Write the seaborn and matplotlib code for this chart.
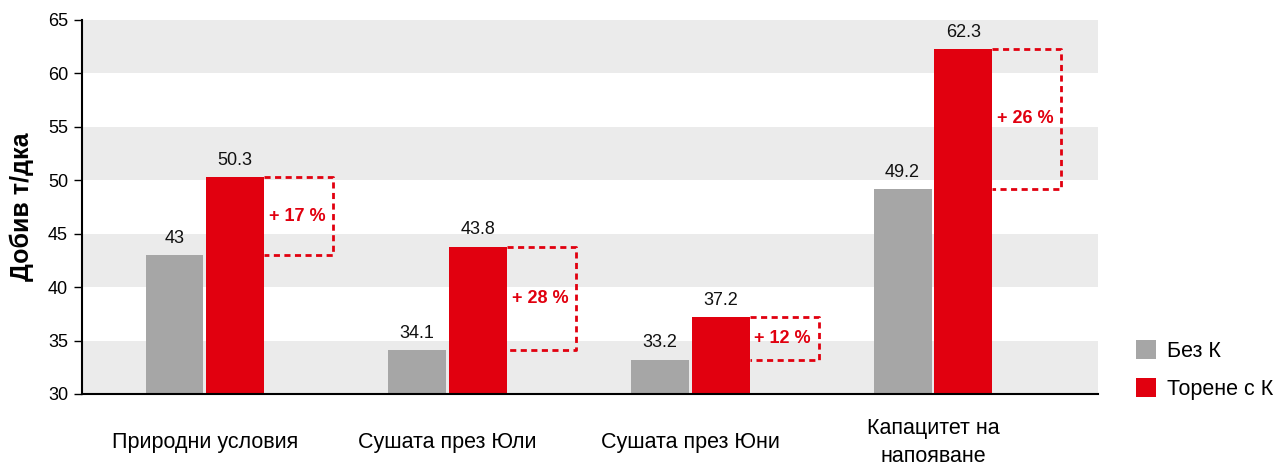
import seaborn as sns
import pandas as pd
import matplotlib
matplotlib.use("Agg")
from matplotlib import pyplot as plt

categories = ["Природни условия", "Сушата през Юли", "Сушата през Юни", "Капацитет на\nнапояване"]
bez_k = [43, 34.1, 33.2, 49.2]
torene_k = [50.3, 43.8, 37.2, 62.3]
pct_labels = ["+ 17 %", "+ 28 %", "+ 12 %", "+ 26 %"]
series_names = ["Без К", "Торене с К"]

gray = "#a6a6a6"
red = "#e1000f"

plt.rcParams["font.family"] = ["Liberation Sans", "DejaVu Sans"]

df = pd.DataFrame({
    "cat": categories * 2,
    "val": bez_k + torene_k,
    "series": [series_names[0]] * 4 + [series_names[1]] * 4,
})

fig = plt.figure(figsize=(12.78, 4.68), dpi=100)
ax = fig.add_axes([82 / 1278, 74 / 468, 1016 / 1278, 374 / 468])

# grey bands
for lo in range(30, 65, 10):
    ax.axhspan(lo, lo + 5, color="#ebebeb", zorder=0, lw=0)

sns.barplot(data=df, x="cat", y="val", hue="series", palette=[gray, red],
            width=0.5, gap=0.045, ax=ax, zorder=2, saturation=1, legend=True)

for cont in ax.containers:
    ax.bar_label(cont, fmt="%g", padding=6, fontsize=13, color="#111111")

# dashed boxes showing the increase
red_bars = ax.containers[1]
for i, bar in enumerate(red_bars):
    x0 = bar.get_x() + bar.get_width()
    x1 = x0 + 0.285
    top = torene_k[i]
    bot = bez_k[i]
    ax.plot([x0, x1, x1, x0], [top, top, bot, bot], ls=(0, (2.2, 1.6)), color=red,
            lw=2, zorder=3, clip_on=False)
    ax.text(x0 + 0.02, (top + bot) / 2, pct_labels[i], color=red, fontsize=13,
            fontweight="bold", ha="left", va="center", zorder=4)

ax.set_ylim(30, 65)
ax.set_xlim(-0.506, 3.68)
ax.set_yticks(range(30, 66, 5))
ax.tick_params(axis="y", length=6, width=1, labelsize=13, pad=4)
ax.tick_params(axis="x", length=0, pad=35)
ax.set_xticks(range(4))
ax.set_xticklabels(categories, fontsize=15.5, va="center", linespacing=1.45)
ax.set_xlabel("")
ax.set_ylabel("Добив т/дка", fontsize=18, fontweight="bold", labelpad=10)
for s in ["top", "right"]:
    ax.spines[s].set_visible(False)
for s in ["left", "bottom"]:
    ax.spines[s].set_linewidth(1.5)
    ax.spines[s].set_color("black")
    ax.spines[s].set_zorder(5)

handles, labels = ax.get_legend_handles_labels()
ax.get_legend().remove()
fig.legend(handles, labels, loc="lower left", bbox_to_anchor=(1136 / 1278, 68 / 468),
           frameon=False, prop={"size": 15.5}, handlelength=0.95,
           handleheight=0.95, handletextpad=0.5, labelspacing=0.75, borderpad=0,
           borderaxespad=0)

fig.savefig("out.png", dpi=100)
